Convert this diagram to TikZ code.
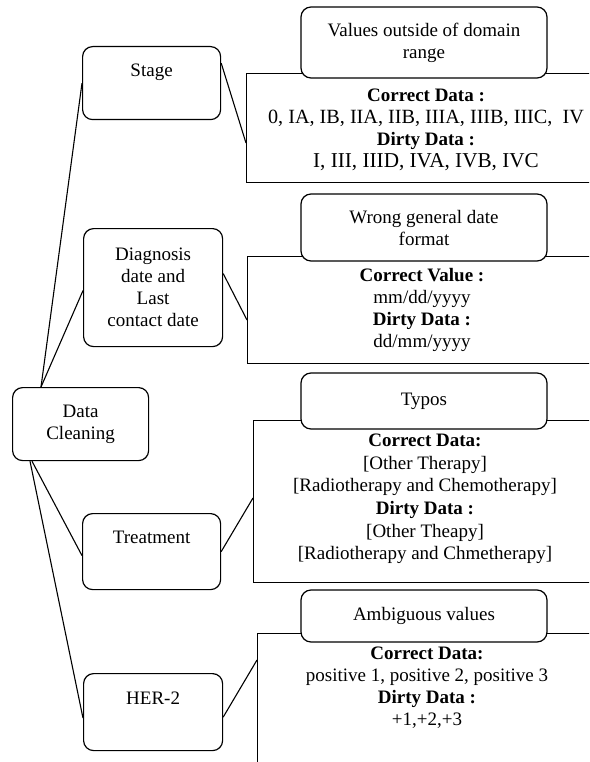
\documentclass[tikz,border=0pt]{standalone}
\usepackage{fontspec}
\setmainfont{Liberation Serif}
\usetikzlibrary{calc}
\newcommand{\sizedline}[2]{{\fontsize{#1}{22}\selectfont #2}}
\begin{document}
\begin{tikzpicture}[x=1pt, y=-1pt, line width=1.2pt,
  every node/.style={font=\fontsize{19}{22}\selectfont},
  catbox/.style={draw, rounded corners=10pt, fill=white, anchor=north west,
    inner sep=0pt, align=center},
  databox/.style={draw, anchor=north west, inner sep=0pt, minimum width=360pt},
  titlebox/.style={draw, rounded corners=10pt, fill=white, minimum width=246pt,
    inner sep=0pt, align=center},
  datatext/.style={align=center, inner sep=0pt},
  link/.style={line width=1.1pt}]
  \clip (0,0) rectangle (589,762);
  \fill[white] (0,0) rectangle (589,762);

  % category boxes on the left
  \node[catbox, minimum width=136pt, minimum height=73pt] (dc) at (12,387) {Data\\Cleaning};
  \node[catbox, minimum width=138pt, minimum height=73pt] (stage) at (82,46) {};
  \node[catbox, minimum width=139pt, minimum height=118pt] (diag) at (83,228)
    {Diagnosis\\date and\\Last\\contact date};
  \node[catbox, minimum width=138pt, minimum height=76pt] (treat) at (82,513) {};
  \node[catbox, minimum width=139pt, minimum height=77pt] (her) at (83,673) {};
  \node (stagetxt) at ($(stage.north)+(0,26)$) {Stage};
  \node (treattxt) at ($(treat.north)+(0,24)$) {Treatment};
  \node (hertxt) at ($(her.north)+(0,25)$) {HER-2};

  % data panels on the right
  \node[databox, minimum height=109pt] (r1) at (246,73) {};
  \node[databox, minimum height=107pt] (r2) at (247,256) {};
  \node[databox, minimum height=162pt] (r3) at (253,420) {};
  \node[databox, minimum height=150pt] (r4) at (257,633) {};

  % problem titles sitting on the panels
  \node[titlebox, minimum height=71pt] (t1) at (424,42.5) {Values outside of domain\\range};
  \node[titlebox, minimum height=67pt] (t2) at (424,227.5) {Wrong general date\\format};
  \node[titlebox, minimum height=56pt] (t3) at (424,401) {Typos};
  \node[titlebox, minimum height=52pt] (t4) at (424,616) {Ambiguous values};

  % panel contents
  \node[datatext] (d1) at (426,130)
    {\textbf{Correct Data :}\\\sizedline{20.2}{0, IA, IB, IIA, IIB, IIIA, IIIB, IIIC,\ \ IV}\\
     \textbf{Dirty Data :}\\\sizedline{21.2}{I, III, IIID, IVA, IVB, IVC}};
  \node[datatext] (d2) at (422,310)
    {\textbf{Correct Value :}\\mm/dd/yyyy\\\textbf{Dirty Data :}\\dd/mm/yyyy};
  \node[datatext, font=\fontsize{19}{22.6}\selectfont] (d3) at (425,499)
    {\textbf{Correct Data:}\\{[}Other Therapy{]}\\{[}Radiotherapy and Chemotherapy{]}\\
     \textbf{Dirty Data :}\\{[}Other Theapy{]}\\{[}Radiotherapy and Chmetherapy{]}};
  \node[datatext] (d4) at (427,688)
    {\textbf{Correct Data:}\\positive 1, positive 2, positive 3\\
     \textbf{Dirty Data :}\\+1,+2,+3};

  % connectors
  \draw[link] ($(dc.north west)+(29,0)$) -- (stage.west);
  \draw[link] ($(dc.north west)+(29,0)$) -- ($(diag.west)+(0,3)$);
  \draw[link] ($(dc.south west)+(20,0)$) -- ($(treat.west)+(0,4)$);
  \draw[link] ($(dc.south west)+(18,0)$) -- ($(her.west)+(0,6)$);
  \draw[link] ($(stage.east)+(0,-20)$) -- ($(r1.north west)+(0,70)$);
  \draw[link] ($(diag.east)+(0,-14)$) -- ($(r2.north west)+(0,64)$);
  \draw[link] (treat.east) -- ($(r3.north west)+(0,78)$);
  \draw[link] ($(her.east)+(0,5)$) -- ($(r4.north west)+(0,27)$);
\end{tikzpicture}
\end{document}
